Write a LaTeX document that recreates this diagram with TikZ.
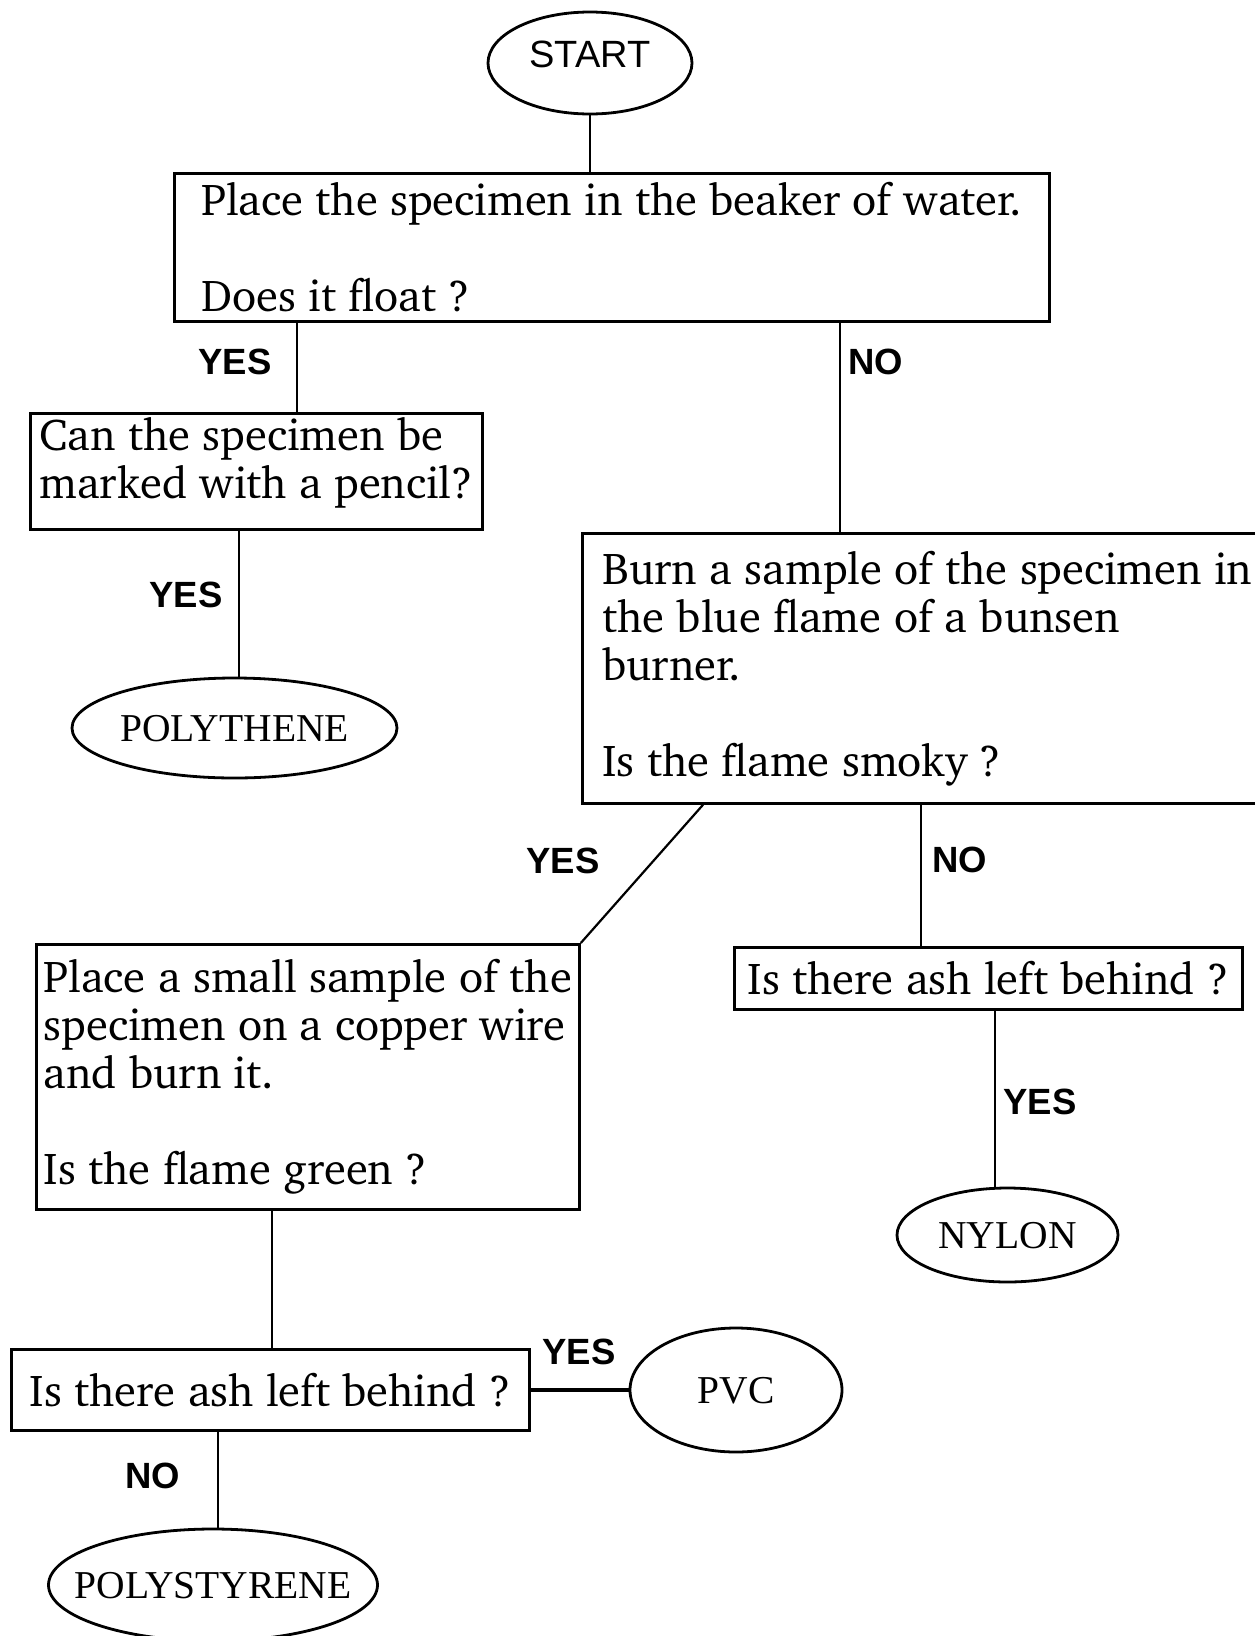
\documentclass[tikz,border=0pt]{standalone}
\usepackage[T1]{fontenc}
\usepackage{fontspec}
\usepackage{tikz}
\usetikzlibrary{shapes.geometric}
\setsansfont{Liberation Sans}
\newfontfamily\timesfont{Liberation Serif}
\newcommand\charterfont{\fontencoding{T1}\fontfamily{bch}\selectfont}
\tikzstyle{box}=[draw,line width=2.8pt,rectangle,anchor=north west,align=left,inner sep=0pt,font=\charterfont\fontsize{44.7}{48}\selectfont]
\tikzstyle{blob}=[draw,line width=2.8pt,ellipse,inner ysep=0pt,inner xsep=-30pt,text height=26pt,text depth=0pt,font=\timesfont\fontsize{39.5}{44}\selectfont]
\tikzstyle{yesno}=[inner sep=0pt,font=\sffamily\bfseries\fontsize{36.5}{40}\selectfont]
\tikzstyle{wire}=[line width=2.2pt]

\begin{document}
\begin{tikzpicture}[x=1pt,y=-1pt]
    \useasboundingbox (0,0) rectangle (1255,1636);
    \node (start) [blob,font=\sffamily\fontsize{38}{42}\selectfont,text height=27pt,text depth=19pt,minimum width=204pt,minimum height=102pt] at (590,63) {START};
    \node (float) [box,minimum width=875pt,minimum height=148pt] at (173,172) {Place the specimen in the beaker of water.\\[48pt]Does it float ?};
    \node (pencil) [box,minimum width=452pt,minimum height=116pt,text depth=26pt] at (29,412) {Can the specimen be\\marked with a pencil?};
    \node (burn) [box,minimum width=690pt,minimum height=270pt] at (581,532) {Burn a sample of the specimen in\\the blue flame of a bunsen\\burner.\\[48pt]Is the flame smoky ?};
    \node (copper) [box,minimum width=543pt,minimum height=265pt] at (35,943) {Place a small sample of the\\specimen on a copper wire\\and burn it.\\[48pt]Is the flame green ?};
    \node (ashright) [box,minimum width=508pt,minimum height=62pt] at (733,946) {Is there ash left behind ?};
    \node (ashleft) [box,minimum width=518pt,minimum height=81pt] at (10,1348) {Is there ash left behind ?};
    \node (polythene) [blob,minimum width=325pt,minimum height=100pt] at (234.5,728) {POLYTHENE};
    \node (nylon) [blob,minimum width=221pt,minimum height=94pt] at (1007.5,1235) {NYLON};
    \node (pvc) [blob,minimum width=212pt,minimum height=124pt] at (736,1390) {PVC};
    \node (polystyrene) [blob,minimum width=329pt,minimum height=112pt] at (213,1585) {POLYSTYRENE};
    \node (yesfloat) [yesno] at (235,362) {YES};
    \node (nofloat) [yesno] at (876,362) {NO};
    \node (yespencil) [yesno] at (186,595) {YES};
    \node (yessmoky) [yesno] at (563,861) {YES};
    \node (nosmoky) [yesno] at (960,860) {NO};
    \node (yesnylon) [yesno] at (1040,1102) {YES};
    \node (yespvc) [yesno] at (579,1352) {YES};
    \node (nopoly) [yesno] at (153,1476) {NO};
    \draw [wire] (start) -- (start |- float.north);
    \draw [wire] (297,0 |- float.south) -- (297,0 |- pencil.north);
    \draw [wire] (840,0 |- float.south) -- (840,0 |- burn.north);
    \draw [wire] (239,0 |- pencil.south) -- (239,0 |- polythene.north);
    \draw [wire] ([xshift=122pt]burn.south west) -- (copper.north east);
    \draw [wire] (921,0 |- burn.south) -- (921,0 |- ashright.north);
    \draw [wire] (995,0 |- ashright.south) -- (995,0 |- nylon.north);
    \draw [wire] (272,0 |- copper.south) -- (272,0 |- ashleft.north);
    \draw [wire,line width=3.5pt] (ashleft.east |- pvc.west) -- (pvc.west);
    \draw [wire] (218,0 |- ashleft.south) -- (218,0 |- polystyrene.north);
\end{tikzpicture}
\end{document}
